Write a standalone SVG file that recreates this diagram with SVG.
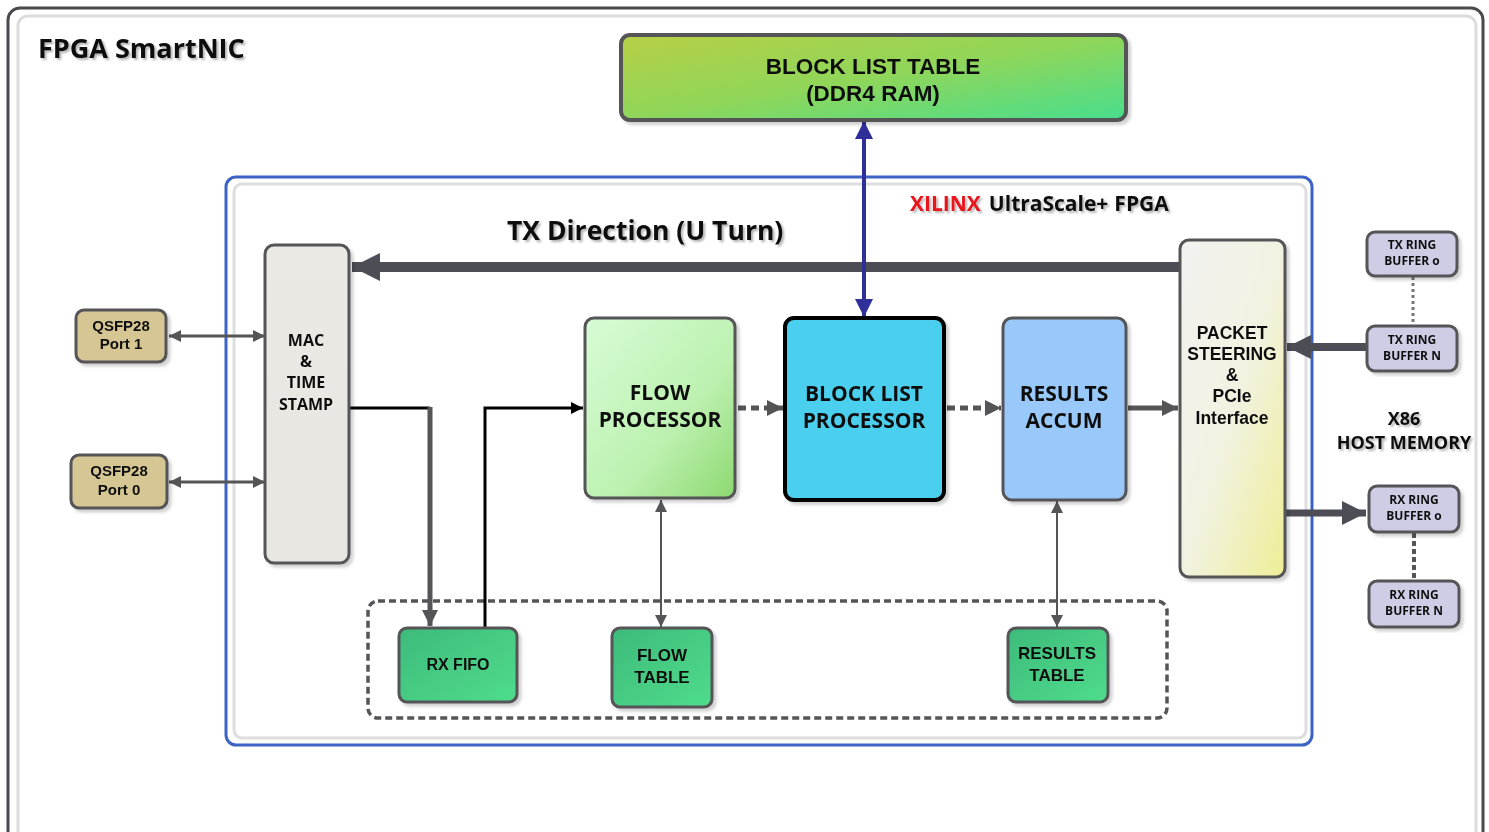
<svg xmlns="http://www.w3.org/2000/svg" width="1489" height="832" viewBox="0 0 1489 832">
<defs>
<style>
.box{stroke:#555558;stroke-width:3}
.t{font-family:"Liberation Sans",Arial,sans-serif;font-weight:bold;fill:#111;text-anchor:middle}
.o{font-family:"Open Sans","Noto Sans",sans-serif;font-weight:700;fill:#111;text-anchor:middle}
.sh{filter:url(#tsh)}
.ln{fill:none;stroke:#555558}
</style>
<linearGradient id="gBLT" x1="0" y1="0" x2="1" y2="1"><stop offset="0" stop-color="#b8cf46"/><stop offset="0.5" stop-color="#8fd65a"/><stop offset="1" stop-color="#47de8e"/></linearGradient>
<linearGradient id="gFP" x1="0" y1="0" x2="1" y2="1"><stop offset="0" stop-color="#d6fdd6"/><stop offset="0.6" stop-color="#bdf0b0"/><stop offset="1" stop-color="#8cd970"/></linearGradient>
<linearGradient id="gPS" x1="0" y1="0" x2="1" y2="1"><stop offset="0" stop-color="#f2f2f0"/><stop offset="0.5" stop-color="#f2f2e2"/><stop offset="1" stop-color="#eeee96"/></linearGradient>
<linearGradient id="gGT" x1="0" y1="0" x2="1" y2="1"><stop offset="0" stop-color="#3dbb7a"/><stop offset="1" stop-color="#4fdc8c"/></linearGradient>
<linearGradient id="gMAC" x1="0" y1="0" x2="0" y2="1"><stop offset="0" stop-color="#ebe9e3"/><stop offset="1" stop-color="#e7e6e0"/></linearGradient>
<filter id="bsh" x="-10%" y="-10%" width="125%" height="125%"><feDropShadow dx="3" dy="3" stdDeviation="1.5" flood-color="#000" flood-opacity="0.18"/></filter>
<filter id="tsh" x="-5%" y="-20%" width="110%" height="150%"><feDropShadow dx="2" dy="2" stdDeviation="1" flood-color="#000" flood-opacity="0.3"/></filter>
<marker id="aG" markerUnits="userSpaceOnUse" viewBox="0 0 10 10" refX="10" refY="5" markerWidth="14" markerHeight="12" orient="auto-start-reverse"><path d="M0,0 L10,5 L0,10 z" fill="#555558"/></marker>
<marker id="aGb" markerUnits="userSpaceOnUse" viewBox="0 0 10 10" refX="10" refY="5" markerWidth="20" markerHeight="16" orient="auto-start-reverse"><path d="M0,0 L10,5 L0,10 z" fill="#555558"/></marker>
<marker id="aB" markerUnits="userSpaceOnUse" viewBox="0 0 10 10" refX="10" refY="5" markerWidth="16" markerHeight="12" orient="auto-start-reverse"><path d="M0,0 L10,5 L0,10 z" fill="#000"/></marker>
<marker id="aN" markerUnits="userSpaceOnUse" viewBox="0 0 10 10" refX="10" refY="5" markerWidth="24" markerHeight="18" orient="auto-start-reverse"><path d="M0,0 L10,5 L0,10 z" fill="#2f2f9a"/></marker>
<marker id="aBig" markerUnits="userSpaceOnUse" viewBox="0 0 10 10" refX="10" refY="5" markerWidth="38" markerHeight="28" orient="auto"><path d="M0,0 L10,5 L0,10 z" fill="#4d4d55"/></marker>
<marker id="aMid" markerUnits="userSpaceOnUse" viewBox="0 0 10 10" refX="10" refY="5" markerWidth="30" markerHeight="24" orient="auto"><path d="M0,0 L10,5 L0,10 z" fill="#4d4d55"/></marker>
</defs>
<rect width="1489" height="832" fill="#ffffff"/>

<g id="frame">
<rect x="8" y="8" width="1475" height="840" rx="12" fill="#fff" stroke="#4a4a4e" stroke-width="3"/>
<rect x="18" y="16" width="1458" height="830" rx="10" fill="none" stroke="#dcdcdc" stroke-width="3"/>
<text x="38" y="58" class="o sh" style="text-anchor:start;font-size:27px">FPGA SmartNIC</text>
</g>

<g id="fpga">
<rect x="226" y="177" width="1086" height="568" rx="10" fill="#fff" stroke="#3b62c4" stroke-width="3"/>
<rect x="234" y="184" width="1072" height="554" rx="8" fill="none" stroke="#dedede" stroke-width="3"/>
<text x="910" y="211" class="o sh" style="text-anchor:start;font-size:21px"><tspan fill="#e8141c">XILINX</tspan><tspan dx="8">UltraScale+</tspan><tspan dx="6">FPGA</tspan></text>
<text x="507" y="240" class="o sh" style="text-anchor:start;font-size:26.5px">TX Direction (U Turn)</text>
</g>

<g id="memgroup">
<rect x="368" y="601" width="799" height="117" rx="10" fill="none" stroke="#555558" stroke-width="3.5" stroke-dasharray="7,4"/>
</g>

<g id="connectors">
<line x1="1180" y1="267" x2="352" y2="267" stroke="#4d4d55" stroke-width="10" marker-end="url(#aBig)"/>
<line x1="864" y1="121" x2="864" y2="317" stroke="#2f2f9a" stroke-width="4" marker-start="url(#aN)" marker-end="url(#aN)"/>
<line x1="169" y1="336" x2="265" y2="336" class="ln" stroke-width="3" marker-start="url(#aG)" marker-end="url(#aG)"/>
<line x1="169" y1="482" x2="265" y2="482" class="ln" stroke-width="3" marker-start="url(#aG)" marker-end="url(#aG)"/>
<polyline points="349,408 430,408" fill="none" stroke="#000" stroke-width="3"/>
<line x1="430" y1="407" x2="430" y2="626" class="ln" stroke-width="5" marker-end="url(#aGb)"/>
<polyline points="485,627 485,408 583,408" fill="none" stroke="#000" stroke-width="3" marker-end="url(#aB)"/>
<line x1="738" y1="408" x2="783" y2="408" class="ln" stroke-width="5" stroke-dasharray="8,5" marker-end="url(#aGb)"/>
<line x1="947" y1="408" x2="1001" y2="408" class="ln" stroke-width="5" stroke-dasharray="8,5" marker-end="url(#aGb)"/>
<line x1="1128" y1="408" x2="1178" y2="408" class="ln" stroke-width="5" marker-end="url(#aGb)"/>
<line x1="661" y1="500" x2="661" y2="627" class="ln" stroke-width="2" marker-start="url(#aG)" marker-end="url(#aG)"/>
<line x1="1057" y1="501" x2="1057" y2="627" class="ln" stroke-width="2" marker-start="url(#aG)" marker-end="url(#aG)"/>
<line x1="1369" y1="347" x2="1287" y2="347" stroke="#4d4d55" stroke-width="8" marker-end="url(#aMid)"/>
<line x1="1285" y1="513" x2="1366" y2="513" stroke="#4d4d55" stroke-width="7" marker-end="url(#aMid)"/>
<line x1="1413" y1="277" x2="1413" y2="325" stroke="#777" stroke-width="3" stroke-dasharray="3,3"/>
<line x1="1414" y1="533" x2="1414" y2="580" stroke="#555558" stroke-width="4" stroke-dasharray="5,3"/>
</g>

<g id="blocklisttable" filter="url(#bsh)">
<rect x="621" y="35" width="505" height="85" rx="9" fill="url(#gBLT)" stroke="#555558" stroke-width="4"/>
<text x="873" y="74" class="t" style="font-size:22.5px">BLOCK LIST TABLE</text>
<text x="873" y="101" class="t" style="font-size:22.5px">(DDR4 RAM)</text>
</g>

<g id="mac" filter="url(#bsh)">
<rect x="265" y="245" width="84" height="318" rx="9" fill="url(#gMAC)" class="box"/>
<text x="306" y="346" class="o" style="font-size:16px">MAC</text>
<text x="306" y="367" class="o" style="font-size:16px">&amp;</text>
<text x="306" y="388" class="o" style="font-size:16px">TIME</text>
<text x="306" y="410" class="o" style="font-size:16px">STAMP</text>
</g>

<g id="qsfp1" filter="url(#bsh)">
<rect x="76" y="310" width="90" height="52" rx="8" fill="#d5c693" class="box"/>
<text x="121" y="331" class="t" style="font-size:15px">QSFP28</text>
<text x="121" y="349" class="t" style="font-size:15px">Port 1</text>
</g>

<g id="qsfp0" filter="url(#bsh)">
<rect x="71" y="455" width="96" height="53" rx="8" fill="#d5c693" class="box"/>
<text x="119" y="476" class="t" style="font-size:15px">QSFP28</text>
<text x="119" y="495" class="t" style="font-size:15px">Port 0</text>
</g>

<g id="flowprocessor" filter="url(#bsh)">
<rect x="585" y="318" width="150" height="180" rx="9" fill="url(#gFP)" class="box"/>
<text x="660" y="400" class="o" style="font-size:21px">FLOW</text>
<text x="660" y="427" class="o" style="font-size:21px">PROCESSOR</text>
</g>

<g id="blocklistprocessor" filter="url(#bsh)">
<rect x="785" y="318" width="159" height="182" rx="9" fill="#4bcfef" stroke="#000" stroke-width="4"/>
<text x="864" y="401" class="o" style="font-size:21px">BLOCK LIST</text>
<text x="864" y="428" class="o" style="font-size:21px">PROCESSOR</text>
</g>

<g id="resultsaccum" filter="url(#bsh)">
<rect x="1003" y="318" width="123" height="182" rx="9" fill="#99c9fa" class="box"/>
<text x="1064" y="401" class="o" style="font-size:21px">RESULTS</text>
<text x="1064" y="428" class="o" style="font-size:21px">ACCUM</text>
</g>

<g id="packetsteering" filter="url(#bsh)">
<rect x="1180" y="240" width="105" height="337" rx="9" fill="url(#gPS)" class="box"/>
<text x="1232" y="339" class="t" style="font-size:17.5px">PACKET</text>
<text x="1232" y="360" class="t" style="font-size:17.5px">STEERING</text>
<text x="1232" y="381" class="t" style="font-size:17.5px">&amp;</text>
<text x="1232" y="402" class="t" style="font-size:17.5px">PCIe</text>
<text x="1232" y="424" class="t" style="font-size:17.5px">Interface</text>
</g>

<g id="rxfifo" filter="url(#bsh)">
<rect x="399" y="628" width="118" height="74" rx="8" fill="url(#gGT)" class="box"/>
<text x="458" y="670" class="t" style="font-size:16px">RX FIFO</text>
</g>

<g id="flowtable" filter="url(#bsh)">
<rect x="612" y="628" width="100" height="79" rx="8" fill="url(#gGT)" class="box"/>
<text x="662" y="661" class="t" style="font-size:17px">FLOW</text>
<text x="662" y="683" class="t" style="font-size:17px">TABLE</text>
</g>

<g id="resultstable" filter="url(#bsh)">
<rect x="1008" y="628" width="100" height="74" rx="8" fill="url(#gGT)" class="box"/>
<text x="1057" y="659" class="t" style="font-size:17px">RESULTS</text>
<text x="1057" y="681" class="t" style="font-size:17px">TABLE</text>
</g>

<g id="txring0" filter="url(#bsh)">
<rect x="1367" y="232" width="90" height="44" rx="8" fill="#cfcde6" class="box"/>
<text x="1412" y="249" class="o" style="font-size:12px">TX RING</text>
<text x="1412" y="265" class="o" style="font-size:12px">BUFFER o</text>
</g>

<g id="txringN" filter="url(#bsh)">
<rect x="1367" y="326" width="90" height="45" rx="8" fill="#cfcde6" class="box"/>
<text x="1412" y="344" class="o" style="font-size:12px">TX RING</text>
<text x="1412" y="360" class="o" style="font-size:12px">BUFFER N</text>
</g>

<g id="rxring0" filter="url(#bsh)">
<rect x="1369" y="486" width="90" height="46" rx="8" fill="#cfcde6" class="box"/>
<text x="1414" y="504" class="o" style="font-size:12px">RX RING</text>
<text x="1414" y="520" class="o" style="font-size:12px">BUFFER o</text>
</g>

<g id="rxringN" filter="url(#bsh)">
<rect x="1369" y="581" width="90" height="46" rx="8" fill="#cfcde6" class="box"/>
<text x="1414" y="599" class="o" style="font-size:12px">RX RING</text>
<text x="1414" y="615" class="o" style="font-size:12px">BUFFER N</text>
</g>

<g id="hostmemory">
<text x="1404" y="425" class="o sh" style="font-size:18px">X86</text>
<text x="1404" y="449" class="o sh" style="font-size:18px">HOST MEMORY</text>
</g>
</svg>
